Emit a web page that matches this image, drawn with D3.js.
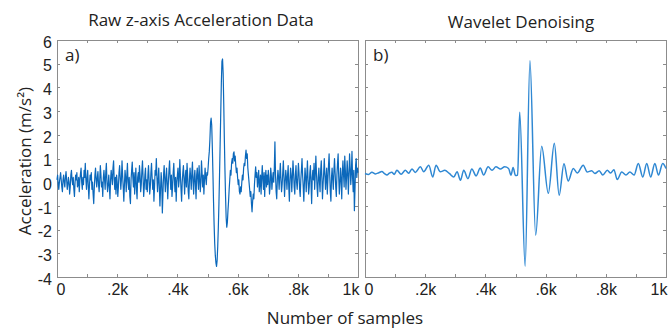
<!DOCTYPE html>
<html>
<head>
<meta charset="utf-8">
<script src="https://cdn.jsdelivr.net/npm/d3@7"></script>
<style>
  body { margin: 0; background: #fff; }
  svg { display: block; font-family: "Open Sans", sans-serif; }
</style>
</head>
<body>
<svg id="chart" width="670" height="331"></svg>
<script>
// raw z-axis trace, one value every rawStep samples
const rawStep = 2;
const rawValues = [
  // 0 - 98
  0.1, 0.3, -0.1, -0.3, 0.0, 0.2, 0.4, 0.1, -0.2, -0.4,  0.1, 0.3, 0.0, -0.2, 0.2, 0.45, 0.1, -0.3, -0.1, 0.2,
  0.0, -0.5, -0.2, 0.3, 0.5, 0.1, -0.1, 0.2, -0.3, -0.6,  0.0, 0.3, 0.1, 0.4, -0.2, -0.1, 0.2, -0.4, 0.1, 0.35,
  0.6, 0.0, -0.3, 0.2, -0.1, 0.5, 0.2, 0.8, 0.1, -0.3,
  // 100 - 198
  0.2, 0.5, -0.2, -0.7, -0.1, 0.3, 0.1, 0.4, -0.3, 0.0,  -0.5, -0.9, -0.2, 0.3, 0.6, 0.1, -0.2, 0.2, 0.45, -0.1,
  -0.4, 0.1, 0.7, 0.3, -0.2, 0.0, -0.6, 0.2, 0.5, 0.1,  -0.3, 0.4, 0.8, 0.0, -0.4, -0.1, 0.3, -0.2, -0.7, 0.1,
  0.5, 0.2, -0.1, 0.6, 0.9, 0.1, -0.3, 0.2, -0.5, 0.3,
  // 200 - 298
  0.0, -0.6, -0.2, 0.4, 0.7, 0.2, -0.3, 0.1, 0.9, 0.3,  -0.2, -0.8, -0.1, 0.5, 0.2, -0.4, 0.3, 0.8, 0.0, -0.3,
  0.2, -0.6, -0.9, 0.1, 0.5, 0.85, 0.2, -0.2, 0.4, -0.5,  0.1, 0.6, -0.3, -0.7, 0.2, 0.4, 0.0, 0.7, 0.3, -0.4,
  -0.1, 0.5, 0.9, 0.2, -0.6, -0.2, 0.3, 0.6, -0.3, 0.1,
  // 300 - 398
  -0.4, 0.3, 0.7, 0.1, -0.5, -0.2, 0.4, 0.8, 0.2, -0.3,  0.1, -0.8, -0.2, 0.5, 0.3, 1.0, 0.2, -0.4, 0.1, 0.6,
  -0.2, -1.0, -0.3, 0.4, 0.0, -1.3, -0.5, 0.3, 0.7, 0.1,  -0.4, 0.2, 0.6, -0.1, -0.7, 0.0, 0.5, 0.9, 0.2, -0.3,
  0.3, -0.6, -0.2, 0.4, 0.8, 0.1, -0.4, 0.2, -0.8, 0.0,
  // 400 - 498
  0.3, 0.6, -0.2, 0.1, 0.95, 0.3, -0.3, -0.8, 0.0, 0.4,  0.7, 0.1, -0.5, 0.2, 0.5, -0.2, 0.8, 0.3, -0.4, -0.7,
  0.1, 0.6, 0.2, -0.3, 0.4, 0.85, 0.0, -0.5, 0.2, 0.5,  -0.1, -0.7, 0.3, 0.6, 0.1, -0.3, 0.7, 0.2, -0.4, 0.0,
  0.9, 0.4, -0.2, 0.3, -0.5, 0.1, 0.6, 0.2, -0.1, 0.4,
  // 500 - 598 (the event)
  0.3, 0.6, 1.0, 1.3, 1.8, 2.5, 2.7, 2.4, 1.5, 0.4,  -0.8, -1.8, -2.6, -3.1, -3.4, -3.55, -3.3, -2.7, -1.9, -0.9,
  0.3, 1.6, 2.9, 4.2, 5.1, 5.2, 4.6, 3.3, 1.8, 0.5,  -0.6, -1.5, -1.9, -1.7, -1.2, -0.8, -0.3, 0.1, 0.5, 0.3,
  0.8, 1.0, 0.8, 1.2, 1.28, 0.9, 1.1, 0.7, 0.4, 0.6,
  // 600 - 698
  0.2, -0.1, 0.1, -0.4, -0.5, -0.2, -0.4, 0.0, 0.3, 0.1,  0.6, 0.8, 0.7, 1.1, 1.35, 1.0, 1.2, 0.6, 0.3, 0.0,
  -0.3, -0.6, -0.4, -0.9, -1.25, -0.8, -0.5, -0.7, -0.1, 0.3,  0.65, 0.2, 0.4, -0.2, 0.1, 0.5, -0.4, 0.0, 0.3, -0.5,
  0.2, 0.7, 0.1, -0.3, 0.4, -0.6, 0.2, 0.5, -0.2, 0.3,
  // 700 - 798
  -0.1, 0.5, 0.2, -0.5, -0.2, 0.6, 0.3, -0.3, 0.1, 0.4,  0.0, 0.6, 1.7, 0.3, -0.4, -0.7, 0.1, 0.5, 0.2, -0.3,
  0.3, 0.8, 0.1, -0.4, -0.1, 0.4, 0.9, 0.2, -0.6, 0.0,  0.5, 0.2, -0.3, 0.3, 0.7, -0.2, -0.8, 0.1, 0.6, 0.3,
  -0.4, 0.2, 0.9, 0.4, -0.2, -0.5, 0.3, 0.7, 0.0, -0.3,
  // 800 - 898
  0.2, 0.8, 0.4, -0.3, -0.6, 0.1, 0.5, 1.0, 0.3, -0.2,  -0.8, 0.0, 0.6, 0.2, -0.4, 0.3, 0.9, 0.1, -0.5, -0.2,
  0.4, 0.7, -0.1, -0.9, 0.2, 0.5, 0.1, 0.8, -0.3, 0.3,  1.1, 0.4, -0.2, -0.6, 0.2, 0.6, 0.0, -0.4, 0.5, 0.9,
  0.2, -0.7, -0.1, 0.4, 1.0, 0.3, -0.3, 0.2, 0.6, -0.5,
  // 900 - 1000
  0.1, 0.7, 1.2, 0.3, -0.4, -0.8, 0.2, 0.6, 0.1, -0.3,  0.5, 1.0, 0.4, -0.2, -0.6, 0.3, 0.8, 1.2, 0.2, -0.5,
  0.0, 0.6, 0.1, -0.7, 0.4, 0.9, 0.3, -0.2, 1.1, 0.5,  -0.3, 0.2, 0.9, 0.4, -0.5, 0.3, 1.2, 0.6, -0.1, 0.4,
  1.3, 0.2, -0.4, 0.5, -1.2, -0.3, 0.7, 1.0, 0.2, 0.6,  0.4
];

// wavelet-denoised trace: turning points
const denoisedSamples = [
  0, 12, 23, 35, 46, 56, 65, 73, 81, 89, 97, 106, 120, 134, 145, 156, 167, 184, 195, 212, 225, 236, 250, 265, 280,
  295, 306, 317, 328, 342, 355, 369, 383, 394, 409, 422, 435, 450, 464, 477, 485, 492, 500, 507, 514, 532, 548, 567,
  587, 609, 629, 645, 661, 675, 692, 705, 725, 738, 753, 764, 778, 790, 805, 816, 827, 838, 853, 867, 880, 894, 908,
  923, 936, 949, 963, 975, 989, 1000
];
const denoisedValues = [
  0.37, 0.33, 0.42, 0.35, 0.40, 0.45, 0.36, 0.30, 0.38, 0.42, 0.33, 0.50, 0.34, 0.50, 0.38, 0.56, 0.41, 0.65, 0.44, 0.72, 0.22, 0.72, 0.44, 0.50, 0.37,
  0.22, 0.44, 0.08, 0.50, 0.15, 0.56, 0.27, 0.60, 0.30, 0.65, 0.50, 0.65, 0.56, 0.65, 0.58, 0.30, 0.62, 0.28, 0.30, 2.95, -3.55, 5.12, -2.24,
  1.52, -0.47, 1.64, -0.55, 0.78, 0.05, 0.58, 0.39, 0.72, 0.43, 0.48, 0.37, 0.48, 0.30, 0.50, 0.39, 0.53, 0.11, 0.43, 0.30, 0.43, 0.30, 0.79,
  0.22, 0.79, 0.22, 0.79, 0.30, 0.79, 0.58
];

const xTickValues = [0, 200, 400, 600, 800, 1000];
const xTickLabels = ["0", ".2k", ".4k", ".6k", ".8k", "1k"];
const yTickValues = [-4, -3, -2, -1, 0, 1, 2, 3, 4, 5, 6];
const panelTitles = ["Raw z-axis Acceleration Data", "Wavelet Denoising"];
const panelTags = ["a)", "b)"];

const svg = d3.select("#chart");
const plotTop = 40, plotBottom = 277, panelWidth = 301;
const panelLefts = [57, 365];
const boxColor = "#8c8c8c";

const y = d3.scaleLinear().domain([-4, 6]).range([plotBottom, plotTop]);

const rawPoints = rawValues.map((v, i) => [i * rawStep, v]);
const denoisedPoints = denoisedSamples.map((s, i) => [s, denoisedValues[i]]);

panelLefts.forEach((left, p) => {
  const x = d3.scaleLinear().domain([0, 1000]).range([left, left + panelWidth]);
  const g = svg.append("g");

  // ticks on all four sides, pointing in (matlab style)
  const xb = g.append("g")
    .attr("transform", "translate(0," + plotBottom + ")")
    .call(d3.axisBottom(x)
      .tickValues(d3.range(0, 1001, 100))
      .tickSizeInner(-3).tickSizeOuter(0).tickPadding(7)
      .tickFormat(d => {
        const k = xTickValues.indexOf(d);
        return k < 0 ? "" : xTickLabels[k];
      }));
  xb.selectAll("text")
    .attr("text-anchor", d => d === 0 ? "start" : d === 1000 ? "end" : "middle")
    .attr("dx", d => d === 0 ? "-1" : d === 1000 ? "1" : "0");

  g.append("g")
    .attr("transform", "translate(0," + plotTop + ")")
    .call(d3.axisTop(x).tickValues(d3.range(0, 1001, 100))
      .tickSizeInner(-3).tickSizeOuter(0).tickFormat(""));

  const yl = g.append("g")
    .attr("transform", "translate(" + left + ",0)")
    .call(d3.axisLeft(y).tickValues(yTickValues)
      .tickSizeInner(-3).tickSizeOuter(0).tickPadding(5)
      .tickFormat(d => p === 0 ? d : ""));
  yl.selectAll("text").attr("dy", "0.45em");

  g.append("g")
    .attr("transform", "translate(" + (left + panelWidth) + ",0)")
    .call(d3.axisRight(y).tickValues(yTickValues)
      .tickSizeInner(-3).tickSizeOuter(0).tickFormat(""));

  g.selectAll(".domain").remove();
  g.selectAll(".tick line").attr("stroke", boxColor).attr("shape-rendering", "crispEdges");
  g.selectAll(".tick text").attr("fill", "#222").style("font-size", "16px");

  g.append("rect")
    .attr("x", left).attr("y", plotTop)
    .attr("width", panelWidth).attr("height", plotBottom - plotTop)
    .attr("fill", "none").attr("stroke", boxColor)
    .attr("shape-rendering", "crispEdges");

  // traces
  if (p === 0) {
    g.append("path")
      .datum(rawPoints)
      .attr("fill", "none")
      .attr("stroke", "#0b68bb")
      .attr("stroke-width", 1.2)
      .attr("stroke-linejoin", "round")
      .attr("d", d3.line().x(d => x(d[0])).y(d => y(d[1])));
  } else {
    g.append("path")
      .datum(denoisedPoints)
      .attr("fill", "none")
      .attr("stroke", "#2f88d3")
      .attr("stroke-width", 1.5)
      .attr("d", d3.line().x(d => x(d[0])).y(d => y(d[1])).curve(d3.curveMonotoneX));
  }

  g.append("text")
    .attr("x", left + 8).attr("y", 61)
    .attr("fill", "#222").style("font-size", "17px")
    .text(panelTags[p]);

  g.append("text")
    .attr("x", p === 0 ? 201 : 521).attr("y", p === 0 ? 26 : 28)
    .attr("text-anchor", "middle")
    .attr("fill", "#222").style("font-size", "17px")
    .text(panelTitles[p]);
});

svg.append("text")
  .attr("transform", "translate(31,161) rotate(-90)")
  .attr("text-anchor", "middle")
  .attr("fill", "#222").style("font-size", "17px")
  .text("Acceleration (m/s²)");

svg.append("text")
  .attr("x", 345).attr("y", 324)
  .attr("text-anchor", "middle")
  .attr("fill", "#222").style("font-size", "17px")
  .text("Number of samples");
</script>
</body>
</html>
